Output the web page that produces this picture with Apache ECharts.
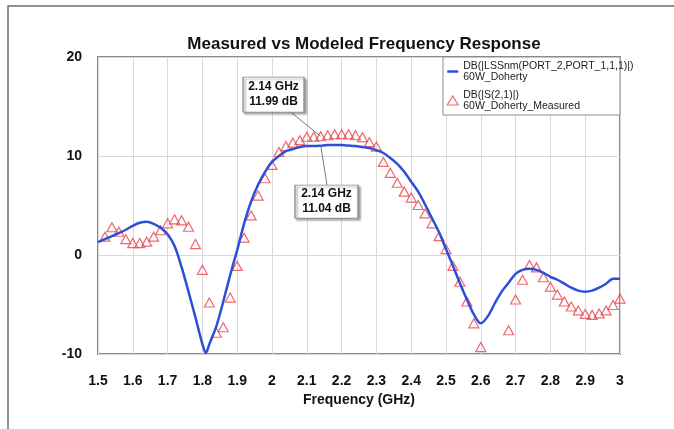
<!DOCTYPE html>
<html>
<head>
<meta charset="utf-8">
<script src="https://cdn.jsdelivr.net/npm/echarts@6/dist/echarts.min.js"></script>
<style>
html,body{margin:0;padding:0;background:#fff;}
#c{width:674px;height:429px;}
</style>
</head>
<body>
<div id="c"></div>
<script>
// Modeled response (blue line)
const modelFreq = [1.50,1.52,1.54,1.56,1.58,1.60,1.62,1.64,1.66,1.68,1.70,1.72,1.74,1.76,1.78,1.80,1.81,1.82,1.84,1.86,1.88,1.90,1.92,1.94,1.96,1.98,2.00,2.02,2.04,2.06,2.08,2.10,2.12,2.14,2.16,2.18,2.20,2.22,2.24,2.26,2.28,2.30,2.32,2.34,2.36,2.38,2.40,2.42,2.44,2.46,2.48,2.50,2.52,2.54,2.56,2.58,2.60,2.62,2.64,2.66,2.68,2.70,2.72,2.74,2.76,2.78,2.80,2.82,2.84,2.86,2.88,2.90,2.92,2.94,2.96,2.98,3.00];
const modelDb = [1.3,1.6,1.9,2.2,2.55,2.95,3.25,3.35,3.15,2.75,2.1,0.9,-1.2,-3.7,-6.3,-9.0,-9.9,-9.0,-7.2,-4.7,-2.0,0.5,3.2,5.4,7.1,8.4,9.4,10.0,10.5,10.7,10.9,11.0,11.0,11.04,11.1,11.1,11.1,11.05,11.0,10.9,10.8,10.6,10.3,9.8,9.2,8.4,7.4,6.4,5.1,3.7,2.3,0.6,-1.1,-2.85,-4.5,-6.0,-6.9,-6.2,-4.9,-3.7,-2.8,-1.9,-1.5,-1.4,-1.5,-1.8,-2.2,-2.5,-2.9,-3.3,-3.6,-3.7,-3.6,-3.3,-2.9,-2.4,-2.4];

// Measured response (red triangles)
const measFreq = [1.52,1.54,1.56,1.58,1.60,1.62,1.64,1.66,1.68,1.70,1.72,1.74,1.76,1.78,1.80,1.82,1.84,1.86,1.88,1.90,1.92,1.94,1.96,1.98,2.00,2.02,2.04,2.06,2.08,2.10,2.12,2.14,2.16,2.18,2.20,2.22,2.24,2.26,2.28,2.30,2.32,2.34,2.36,2.38,2.40,2.42,2.44,2.46,2.48,2.50,2.52,2.54,2.56,2.58,2.60,2.68,2.70,2.72,2.74,2.76,2.78,2.80,2.82,2.84,2.86,2.88,2.90,2.92,2.94,2.96,2.98,3.00];
const measDb = [1.85,2.8,2.35,1.6,1.2,1.2,1.35,1.85,2.5,3.2,3.6,3.5,2.85,1.1,-1.5,-4.8,-7.85,-7.3,-4.3,-1.1,1.75,4.0,6.0,7.75,9.1,10.4,11.0,11.35,11.6,11.95,11.95,12.0,12.1,12.2,12.2,12.2,12.1,11.9,11.4,10.95,9.4,8.3,7.3,6.4,5.8,5.05,4.2,3.2,1.9,0.6,-1.1,-2.7,-4.7,-6.9,-9.3,-7.6,-4.5,-2.5,-1.0,-1.25,-2.25,-3.2,-4.0,-4.7,-5.2,-5.6,-5.95,-6.05,-5.9,-5.6,-5.05,-4.4];

// Axis ticks
const xTicks = [1.5,1.6,1.7,1.8,1.9,2,2.1,2.2,2.3,2.4,2.5,2.6,2.7,2.8,2.9,3];
const yTicks = [-10,0,10,20];

// Marker annotations
const markerFreq = 2.14;
const markerMeasDb = 11.99;
const markerModelDb = 11.04;

const modelName = 'DB(|LSSnm(PORT_2,PORT_1,1,1)|)';
const measName = 'DB(|S(2,1)|)';
const subNames = {};
subNames[modelName] = '60W_Doherty';
subNames[measName] = '60W_Doherty_Measured';

const FONT = '"Liberation Sans", Arial, sans-serif';
const chart = echarts.init(document.getElementById('c'));

const boxStyle = {
  color: '#ffffff',
  borderColor: '#8c8c8c',
  borderWidth: 1,
  shadowColor: 'rgba(0,0,0,0.35)',
  shadowBlur: 2,
  shadowOffsetX: 2,
  shadowOffsetY: 2
};
const boxLabel = {
  show: true,
  position: 'inside',
  color: '#111',
  fontFamily: FONT,
  fontWeight: 'bold',
  fontSize: 12,
  lineHeight: 15
};

chart.setOption({
  animation: false,
  backgroundColor: '#fff',
  graphic: [
    {
      type: 'rect',
      shape: { x: 8, y: 6, width: 720, height: 520 },
      style: { fill: 'none', stroke: '#6e6e6e', lineWidth: 1.5 },
      silent: true,
      z: -10
    },
    {
      type: 'rect',
      shape: { x: 443, y: 57, width: 177, height: 58 },
      style: { fill: '#fff', stroke: '#8c8c8c', lineWidth: 1 },
      silent: true,
      z: 3.5
    }
  ],
  title: {
    text: 'Measured vs Modeled Frequency Response',
    left: 359,
    textAlign: 'center',
    top: 31,
    textStyle: { fontFamily: FONT, fontWeight: 'bold', fontSize: 17, color: '#111' }
  },
  grid: {
    left: 98, right: 54, top: 57, bottom: 75,
    show: true,
    borderColor: '#8a8a8a',
    borderWidth: 2,
    backgroundColor: 'transparent'
  },
  legend: {
    left: 443,
    top: 53,
    orient: 'vertical',
    padding: [2, 4, 4, 3],
    itemGap: -4,
    itemWidth: 11,
    itemHeight: 9,
    selectedMode: false,
    z: 5,
    textStyle: {
      fontFamily: FONT,
      fontSize: 10.5,
      color: '#222',
      lineHeight: 11,
      padding: [11, 0, 0, 0]
    },
    formatter: function (n) { return n + '\n' + subNames[n]; },
    data: [
      { name: modelName, itemStyle: { opacity: 0 }, lineStyle: { color: '#2b4fd8', width: 2.5 } },
      { name: measName, icon: 'triangle', itemStyle: { color: '#fff', borderColor: '#e8434a', borderWidth: 1.2 } }
    ]
  },
  xAxis: {
    type: 'value',
    min: 1.5,
    max: 3,
    interval: 0.1,
    name: 'Frequency (GHz)',
    nameLocation: 'middle',
    nameGap: 39,
    nameTextStyle: { fontFamily: FONT, fontWeight: 'bold', fontSize: 14, color: '#111' },
    axisLine: { show: false },
    axisTick: { show: false },
    axisLabel: {
      margin: 20,
      fontFamily: FONT, fontWeight: 'bold', fontSize: 14, color: '#111',
      formatter: function (v) {
        const r = Math.round(v * 10) / 10;
        return xTicks.indexOf(r) >= 0 ? String(r) : '';
      }
    },
    splitLine: { show: true, lineStyle: { color: '#d9d9d9', width: 1 } }
  },
  yAxis: {
    type: 'value',
    min: -10,
    max: 20,
    interval: 10,
    axisLine: { show: false },
    axisTick: { show: false },
    axisLabel: {
      margin: 16,
      fontFamily: FONT, fontWeight: 'bold', fontSize: 14, color: '#111',
      formatter: function (v) { return yTicks.indexOf(v) >= 0 ? String(v) : ''; }
    },
    splitLine: { show: true, lineStyle: { color: '#d9d9d9', width: 1 } }
  },
  series: [
    {
      name: modelName,
      type: 'line',
      data: modelFreq.map(function (f, i) { return [f, modelDb[i]]; }),
      smooth: 0.3,
      symbol: 'none',
      lineStyle: { color: '#2b4fd8', width: 2.5 },
      itemStyle: { color: '#2b4fd8' },
      z: 3,
      markLine: {
        silent: true,
        symbol: 'none',
        label: { show: false },
        lineStyle: { color: '#7a7a7a', width: 1, type: 'solid' },
        data: [
          [{ coord: [markerFreq, markerMeasDb] }, { coord: [2.057, 14.34] }],
          [{ coord: [markerFreq, markerModelDb] }, { coord: [2.158, 7.07] }]
        ]
      },
      markPoint: {
        silent: true,
        data: [
          {
            coord: [2.0043, 16.21],
            symbol: 'rect',
            symbolSize: [61, 35],
            itemStyle: boxStyle,
            label: Object.assign({}, boxLabel, {
              formatter: markerFreq + ' GHz\n' + markerMeasDb.toFixed(2) + ' dB'
            })
          },
          {
            coord: [2.1566, 5.40],
            symbol: 'rect',
            symbolSize: [63, 33],
            itemStyle: boxStyle,
            label: Object.assign({}, boxLabel, {
              formatter: markerFreq + ' GHz\n' + markerModelDb.toFixed(2) + ' dB'
            })
          }
        ]
      }
    },
    {
      name: measName,
      type: 'scatter',
      data: measFreq.map(function (f, i) { return [f, measDb[i]]; }),
      symbol: 'triangle',
      symbolSize: [10, 9],
      itemStyle: { color: 'rgba(255,255,255,0)', borderColor: '#e8434a', borderWidth: 1.2 },
      z: 2
    }
  ]
});
</script>
</body>
</html>
